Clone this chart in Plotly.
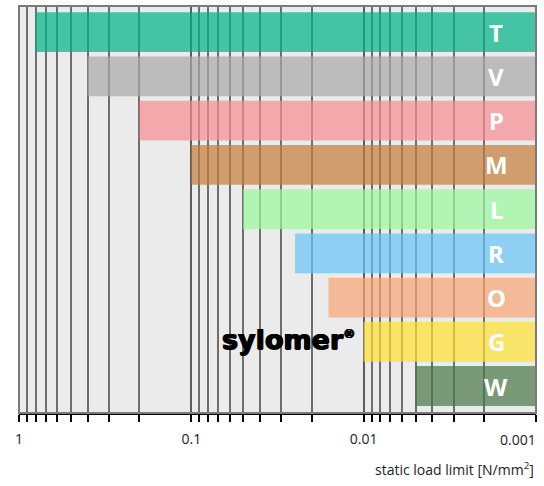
import math
import plotly.graph_objects as go

# ---- data ----
categories = ["T", "V", "P", "M", "L", "R", "O", "G", "W"]
start_limit = [0.8, 0.4, 0.2, 0.1, 0.05, 0.025, 0.016, 0.01, 0.005]   # left edge of bar
end_limit = 0.001                                                    # right edge of bar
bar_colors = ["#00b488", "#a9a9a9", "#f98d92", "#c47d3a", "#9af99c",
              "#68c4f9", "#f9a674", "#ffe133", "#4a7747"]
tick_values = [1, 0.1, 0.01, 0.001]
tick_labels = ["1", "0.1", "0.01", ""]

LABEL_X = 0.0017

fig = go.Figure()
fig.add_trace(go.Bar(
    y=categories,
    base=start_limit,
    x=[end_limit - s for s in start_limit],
    orientation="h",
    marker=dict(color=bar_colors, line=dict(width=0)),
    opacity=0.7,
    hoverinfo="skip",
))

annotations = []
for c in categories:
    annotations.append(dict(
        x=math.log10(LABEL_X), y=c, xref="x", yref="y", text=c, showarrow=False,
        font=dict(family="Noto Sans", size=24, color="white", weight="bold"),
        xanchor="center", yanchor="middle",
    ))
annotations.append(dict(
    x=-1.962, y="G", xref="x", yref="y",
    text="sylomer<sup><span style='font-size:12px'>®</span></sup>", showarrow=False,
    font=dict(family="DejaVu Sans", size=27, color="black", weight="bold",
              shadow="0.7px 0 0 black, -0.7px 0 0 black, 0 0.5px 0 black"),
    xanchor="right", yanchor="middle", yshift=2,
))
annotations.append(dict(
    x=math.log10(0.001), y=0, xref="x", yref="paper", text="0.001", showarrow=False,
    font=dict(family="Open Sans", size=14, color="#222"),
    xanchor="right", yanchor="top", yshift=-15, xshift=2,
))
annotations.append(dict(
    x=1, y=0, xref="paper", yref="paper", text="static load limit [N/mm<sup>2</sup>]",
    showarrow=False, font=dict(family="Open Sans", size=14, color="#222"),
    xanchor="right", yanchor="top", yshift=-44,
))

fig.update_layout(
    width=544, height=486,
    margin=dict(l=19, r=8, t=6, b=73),
    paper_bgcolor="white",
    plot_bgcolor="#ebebeb",
    showlegend=False,
    bargap=0.1,
    annotations=annotations,
    shapes=[dict(type="rect", xref="paper", yref="paper", x0=0, x1=1, y0=0, y1=1,
                 line=dict(color="#7a7a7a", width=2), layer="above")],
    xaxis=dict(
        type="log", range=[0, -3],
        tickmode="array", tickvals=tick_values, ticktext=tick_labels,
        showgrid=True, gridcolor="#5c5c5c", gridwidth=2,
        ticks="outside", ticklen=7, tickwidth=2, tickcolor="black",
        showline=True, linecolor="black", linewidth=2,
        ticklabelstandoff=5,
        tickfont=dict(family="Open Sans", size=14, color="#222"),
        minor=dict(dtick="D1", showgrid=True, gridcolor="#6e6e6e", gridwidth=1.6,
                   ticks="outside", ticklen=7, tickwidth=1.5, tickcolor="black"),
        zeroline=False,
        layer="above traces",
    ),
    yaxis=dict(
        type="category",
        categoryorder="array", categoryarray=categories[::-1],
        range=[-0.61, 8.59],
        showticklabels=False, showgrid=False, ticks="", zeroline=False,
    ),
)

fig.write_html("out.html", config={"displayModeBar": False},
               post_script="document.body.style.margin='0';")
